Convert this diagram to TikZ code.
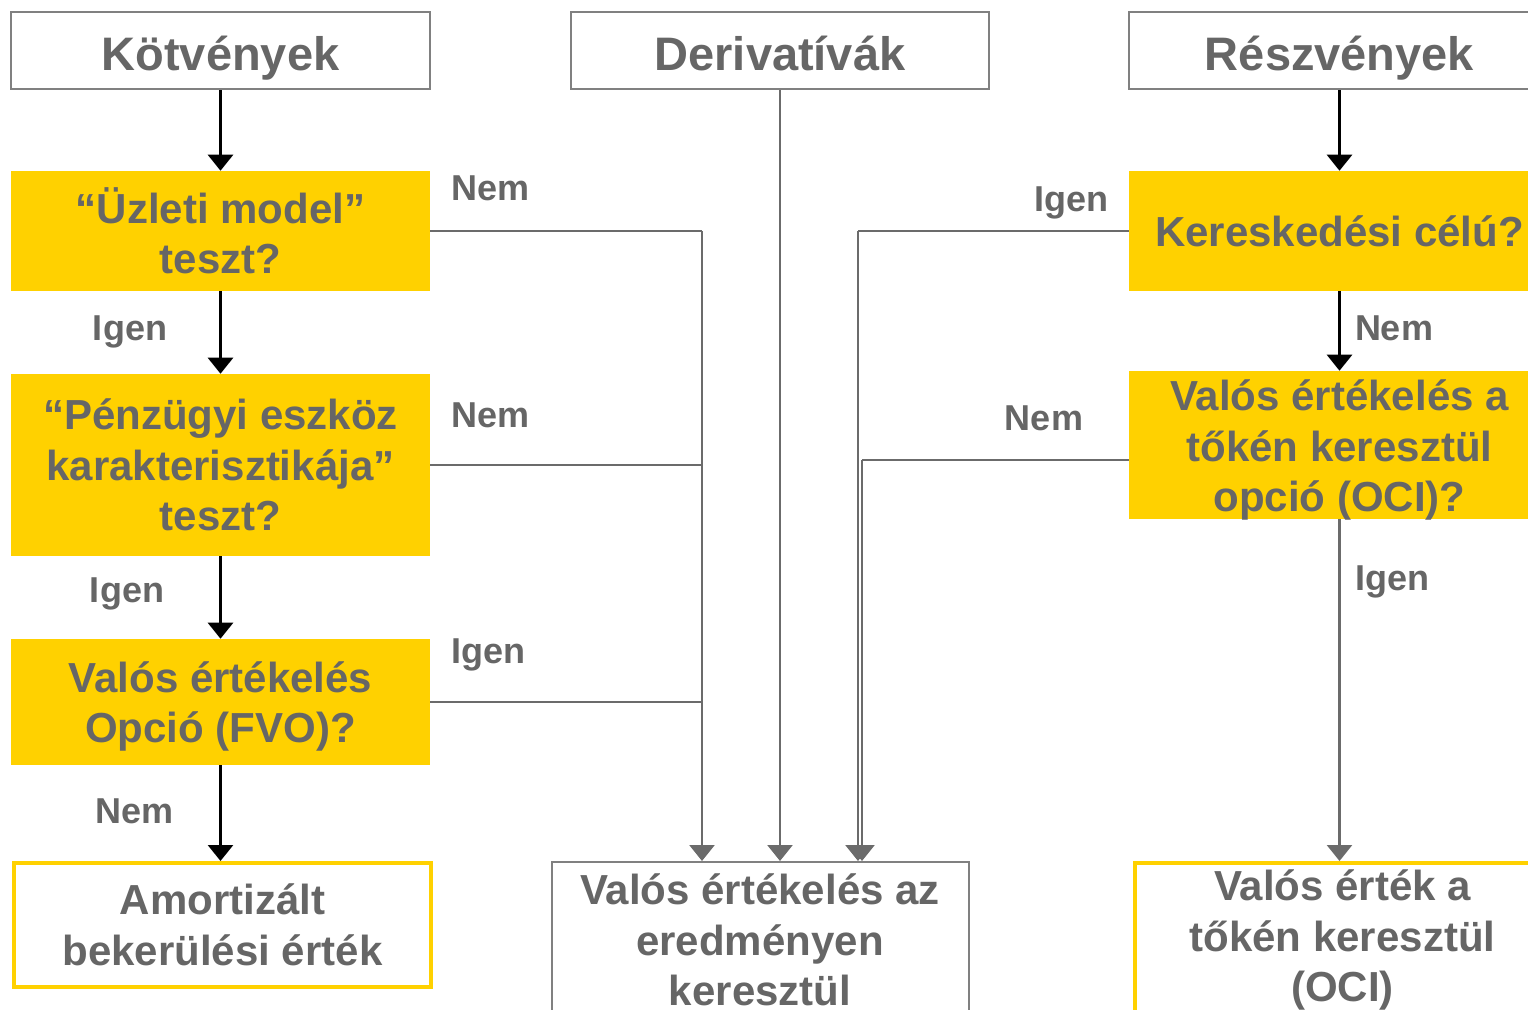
\documentclass[tikz,border=0pt]{standalone}
\usepackage{fontspec}
\setmainfont{Liberation Sans}
\usetikzlibrary{arrows.meta,calc}
\definecolor{eyyellow}{HTML}{FFD100}
\definecolor{txtgray}{HTML}{666666}
\definecolor{framegray}{HTML}{808080}
\definecolor{wiregray}{HTML}{6B6B6B}

\begin{document}
\begin{tikzpicture}[x=0.75pt,y=-0.75pt,
  every node/.style={text=txtgray},
  headbox/.style={draw=framegray, line width=1.5pt, fill=white, inner sep=0pt,
    text height=36.75pt, text depth=7.5pt,
    font=\fontsize{35.25}{42}\selectfont\bfseries},
  askbox/.style={fill=eyyellow, inner sep=0pt, align=center,
    font=\fontsize{31.5}{37.9}\selectfont\bfseries},
  asktext/.style={inner sep=0pt, align=center,
    font=\fontsize{31.5}{37.9}\selectfont\bfseries},
  endbox/.style={draw=eyyellow, line width=3pt, fill=white, inner sep=0pt, align=center,
    font=\fontsize{31.5}{37.9}\selectfont\bfseries},
  fvbox/.style={draw=framegray, line width=1.5pt, fill=white, inner sep=0pt, align=center,
    font=\fontsize{31.5}{37.9}\selectfont\bfseries},
  lbl/.style={inner sep=0pt, font=\fontsize{27}{32}\selectfont\bfseries},
  blackarrow/.style={draw=black, line width=2pt,
    -{Triangle[width=18.75pt,length=12pt]}},
  grayarrow/.style={draw=wiregray, line width=2pt,
    -{Triangle[width=18.75pt,length=12pt]}},
  grayline/.style={draw=wiregray, line width=2pt}
]
\useasboundingbox (0,0) rectangle (1528,1010);
\clip (0,0) rectangle (1528,1010);

% column headers
\node[headbox, minimum width=314.25pt, minimum height=57.75pt] (kot) at (220.5,50.5) {Kötvények};
\node[headbox, minimum width=313.5pt, minimum height=57.75pt] (der) at (780,50.5) {Derivatívák};
\node[headbox, minimum width=315.75pt, minimum height=57.75pt] (res) at (1339.5,50.5) {Részvények};

% bond decisions
\node[askbox, minimum width=314.25pt, minimum height=90pt] (uz) at (220.5,231) {“Üzleti model”\\teszt?};
\node[askbox, minimum width=314.25pt, minimum height=136.5pt] (pen) at (220.5,465) {“Pénzügyi eszköz\\karakterisztikája”\\teszt?};
\node[askbox, minimum width=314.25pt, minimum height=94.5pt] (fvo) at (220.5,702) {};
\node[asktext] (fvotext) at (220.5,706.5) {Valós értékelés\\Opció (FVO)?};

% equity decisions
\node[askbox, minimum width=315.75pt, minimum height=90pt] (ker) at (1339.5,231) {Kereskedési célú?};
\node[askbox, minimum width=315.75pt, minimum height=111pt] (oci) at (1339.5,445) {};
\node[asktext] (ocitext) at (1339.5,450) {Valós értékelés a\\tőkén keresztül\\opció (OCI)?};

% outcomes
\node[endbox, minimum width=312.75pt, minimum height=93pt] (amo) at (222.5,925) {Amortizált\\bekerülési érték};
\node[fvbox, minimum width=312.75pt, minimum height=117pt] (fvpl) at (760,940) {Valós értékelés az\\eredményen\\keresztül};
\node[endbox, minimum width=311.25pt, minimum height=115.5pt] (foci) at (1342.5,940) {Valós érték a\\tőkén keresztül\\(OCI)};

% collector columns and the side exit of the OCI question
\coordinate (colL) at (702,0);
\coordinate (colR1) at (858,0);
\coordinate (colR2) at (862,0);
\coordinate (ociout) at ($(oci.west)+(0,15)$);

% bond path
\draw[blackarrow] (kot.south) -- (uz.north);
\draw[blackarrow] (uz.south) -- (pen.north);
\draw[blackarrow] (pen.south) -- (fvo.north);
\draw[blackarrow] (fvo.south) -- (amo.north -| fvo.south);

\draw[grayline] (uz.east) -- (uz.east -| colL);
\draw[grayarrow] (uz.east -| colL) -- (colL |- fvpl.north);
\draw[grayline] (pen.east) -- (pen.east -| colL);
\draw[grayline] (fvo.east) -- (fvo.east -| colL);

% derivatives path
\draw[grayarrow] (der.south) -- (der.south |- fvpl.north);

% equity path
\draw[blackarrow] (res.south) -- (ker.north);
\draw[blackarrow] (ker.south) -- (oci.north);
\draw[grayarrow] (oci.south) -- (oci.south |- foci.north);
\draw[grayline] (ker.west) -- (ker.west -| colR1);
\draw[grayarrow] (ker.west -| colR1) -- (colR1 |- fvpl.north);
\draw[grayline] (ociout) -- (ociout -| colR2);
\draw[grayarrow] (ociout -| colR2) -- (colR2 |- fvpl.north);

% branch labels
\node[lbl, anchor=base west] (n1) at (451,200) {Nem};
\node[lbl, anchor=base west] (n2) at (451,427) {Nem};
\node[lbl, anchor=base west] (i3) at (451,663) {Igen};
\node[lbl, anchor=base] (i1) at (130,340) {Igen};
\node[lbl, anchor=base] (i2) at (127,602) {Igen};
\node[lbl, anchor=base] (n3) at (135,823) {Nem};
\node[lbl, anchor=base] (i4) at (1071,211) {Igen};
\node[lbl, anchor=base] (n4) at (1394,340) {Nem};
\node[lbl, anchor=base] (n5) at (1044,430) {Nem};
\node[lbl, anchor=base] (i5) at (1392,590) {Igen};
\end{tikzpicture}
\end{document}
